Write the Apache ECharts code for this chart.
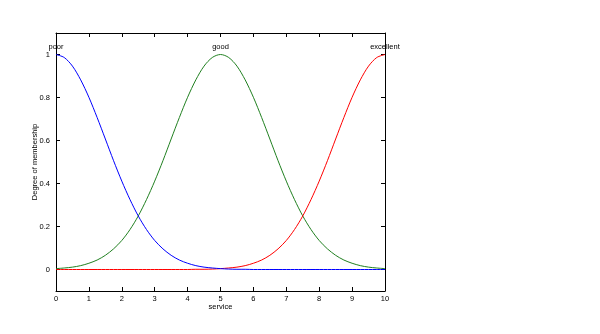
<!DOCTYPE html>
<html><head><meta charset="utf-8">
<script src="https://cdn.jsdelivr.net/npm/echarts@6/dist/echarts.min.js"></script>
<style>html,body{margin:0;padding:0;background:#fff}#c{width:600px;height:334px}</style>
</head><body><div id="c"></div>
<script>
var xValues = [0,0.25,0.5,0.75,1,1.25,1.5,1.75,2,2.25,2.5,2.75,3,3.25,3.5,3.75,4,4.25,4.5,4.75,5,5.25,5.5,5.75,6,6.25,6.5,6.75,7,7.25,7.5,7.75,8,8.25,8.5,8.75,9,9.25,9.5,9.75,10];
var poor = [1,0.986,0.946,0.882,0.801,0.707,0.607,0.506,0.411,0.325,0.249,0.186,0.135,0.096,0.066,0.044,0.029,0.018,0.011,0.007,0.004,0.002,0.001,0.001,0,0,0,0,0,0,0,0,0,0,0,0,0,0,0,0,0];
var good = [0.004,0.007,0.011,0.018,0.029,0.044,0.066,0.096,0.135,0.186,0.249,0.325,0.411,0.506,0.607,0.707,0.801,0.882,0.946,0.986,1,0.986,0.946,0.882,0.801,0.707,0.607,0.506,0.411,0.325,0.249,0.186,0.135,0.096,0.066,0.044,0.029,0.018,0.011,0.007,0.004];
var excellent = [0,0,0,0,0,0,0,0,0,0,0,0,0,0,0,0,0,0.001,0.001,0.002,0.004,0.007,0.011,0.018,0.029,0.044,0.066,0.096,0.135,0.186,0.249,0.325,0.411,0.506,0.607,0.707,0.801,0.882,0.946,0.986,1];
var mfNames = ['poor','good','excellent'];
var yTicks = [0,0.2,0.4,0.6,0.8,1];
var xTicks = [0,1,2,3,4,5,6,7,8,9,10];
var xLabel = 'service';
var yLabel = 'Degree of membership';

var FONT = 'Liberation Sans';
var FS = 7.5;
function pairs(vals) {
  return xValues.map(function (x, i) { return [x, vals[i]]; });
}
var chart = echarts.init(document.getElementById('c'), null, { renderer: 'canvas' });
var axisLine = { show: true, onZero: false, lineStyle: { color: '#000', width: 1 } };
var tickIn = { show: true, inside: true, length: 4, lineStyle: { color: '#000' } };
function lineSeries(idx, vals, color, z) {
  return { name: mfNames[idx], type: 'line', data: pairs(vals),
    showSymbol: false, smooth: 0.3,
    lineStyle: { color: color, width: 1 }, itemStyle: { color: color },
    markPoint: {
      symbol: 'circle', symbolSize: 2, silent: true,
      itemStyle: { color: 'rgba(0,0,0,0)' },
      label: { show: true, position: 'top', distance: 3, formatter: mfNames[idx],
        color: '#000', fontSize: FS, fontFamily: FONT },
      data: [{ type: 'max' }]
    },
    z: z };
}
chart.setOption({
  animation: false,
  backgroundColor: '#fff',
  grid: { left: 56, right: 215, top: 33, bottom: 43, containLabel: false },
  xAxis: [{
    type: 'value', min: 0, max: 10, interval: 1, position: 'bottom',
    axisLine: axisLine, axisTick: tickIn, splitLine: { show: false },
    axisLabel: { color: '#000', fontSize: FS, fontFamily: FONT, margin: 4, customValues: xTicks },
    name: xLabel, nameLocation: 'middle', nameGap: 12, nameMoveOverlap: false,
    nameTextStyle: { color: '#000', fontSize: FS, fontFamily: FONT }
  }, {
    type: 'value', min: 0, max: 10, interval: 1, position: 'top',
    axisLine: axisLine, axisTick: tickIn, splitLine: { show: false },
    axisLabel: { show: false }
  }],
  yAxis: [{
    type: 'value', min: -0.1, max: 1.1, position: 'left',
    axisLine: axisLine,
    axisTick: { show: true, inside: true, length: 4, lineStyle: { color: '#000' }, customValues: yTicks },
    splitLine: { show: false },
    axisLabel: { color: '#000', fontSize: FS, fontFamily: FONT, margin: 6, customValues: yTicks },
    name: yLabel, nameLocation: 'middle', nameGap: 17, nameRotate: 90, nameMoveOverlap: false,
    nameTextStyle: { color: '#000', fontSize: FS, fontFamily: FONT }
  }, {
    type: 'value', min: -0.1, max: 1.1, position: 'right',
    axisLine: axisLine,
    axisTick: { show: true, inside: true, length: 4, lineStyle: { color: '#000' }, customValues: yTicks },
    splitLine: { show: false }, axisLabel: { show: false }
  }],
  series: [
    lineSeries(1, good, '#208020', 2),
    lineSeries(2, excellent, '#ff0000', 3),
    lineSeries(0, poor, '#0000ff', 4)
  ]
});
</script></body></html>
